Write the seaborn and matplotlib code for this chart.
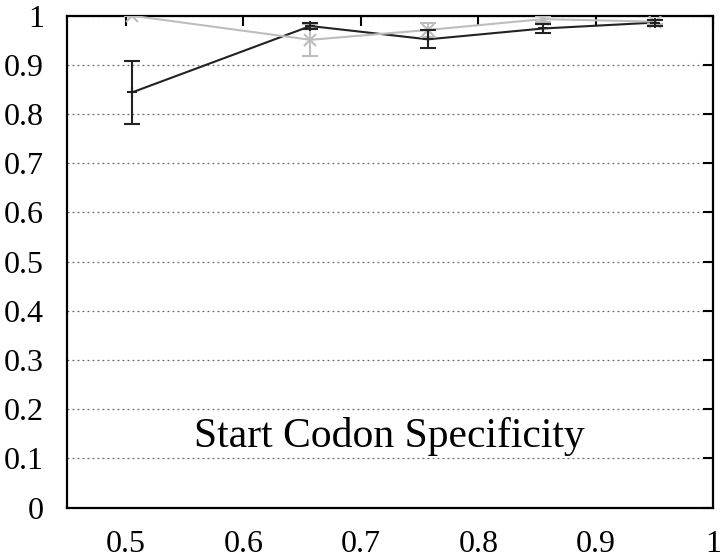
import matplotlib
matplotlib.use("Agg")
import matplotlib.pyplot as plt
import seaborn as sns
import pandas as pd

# data
x_vals = [0.505, 0.657, 0.757, 0.855, 0.950]
dark_y = [0.844, 0.979, 0.952, 0.974, 0.986]
dark_err = [0.064, 0.006, 0.018, 0.010, 0.006]
gray_y = [1.000, 0.951, 0.971, 0.993, 0.988]
gray_err = [0.000, 0.032, 0.014, 0.006, 0.004]
x_ticks = [0.5, 0.6, 0.7, 0.8, 0.9, 1.0]
x_tick_labels = ["0.5", "0.6", "0.7", "0.8", "0.9", "1"]
y_ticks = [0, 0.1, 0.2, 0.3, 0.4, 0.5, 0.6, 0.7, 0.8, 0.9, 1.0]
y_tick_labels = ["0", "0.1", "0.2", "0.3", "0.4", "0.5", "0.6", "0.7", "0.8", "0.9", "1"]
label_text = "Start Codon Specificity"

sns.set_style("white")
plt.rcParams['font.family'] = ['Liberation Serif', 'DejaVu Serif']

DARK = "#222222"
GRAY = "#bdbdbd"

fig = plt.figure(figsize=(7.26, 5.59), dpi=100)
ax = fig.add_axes([0.0927, 0.0918, 0.8898, 0.8801])

df = pd.DataFrame({"x": x_vals * 2,
                   "y": dark_y + gray_y,
                   "series": ["dark"] * len(x_vals) + ["gray"] * len(x_vals)})

sns.lineplot(data=df, x="x", y="y", hue="series", palette={"dark": DARK, "gray": GRAY},
             linewidth=1.5, legend=False, ax=ax, zorder=3)

ax.errorbar(x_vals, gray_y, yerr=gray_err, fmt='x', color=GRAY, ecolor=GRAY,
            elinewidth=1.5, capsize=6, capthick=1.5, markersize=9, markeredgewidth=1.5, zorder=3)
ax.errorbar(x_vals, dark_y, yerr=dark_err, fmt='+', color=DARK, ecolor=DARK,
            elinewidth=1.5, capsize=6, capthick=1.5, markersize=7, markeredgewidth=1.5, zorder=4)

ax.set_xlim(0.45, 1.0)
ax.set_ylim(0, 1.0)
ax.set_xticks(x_ticks)
ax.set_xticklabels(x_tick_labels)
ax.set_yticks(y_ticks)
ax.set_yticklabels(y_tick_labels)
ax.set_xlabel("")
ax.set_ylabel("")

ax.tick_params(axis='both', direction='in', length=7.5, width=1.5, labelsize=23,
               top=True, right=True, colors='black')
ax.tick_params(axis='y', pad=17)
ax.tick_params(axis='x', pad=16)

for s in ax.spines.values():
    s.set_linewidth(1.6)
    s.set_color('black')

ax.yaxis.grid(True, linestyle=(0, (1.5, 2.5)), color='#666666', linewidth=0.9)
ax.xaxis.grid(False)
ax.set_axisbelow(True)

ax.text(0.7245, 0.123, label_text, fontsize=30, ha='center', va='baseline', color='black')

fig.savefig("out.png", dpi=100)
